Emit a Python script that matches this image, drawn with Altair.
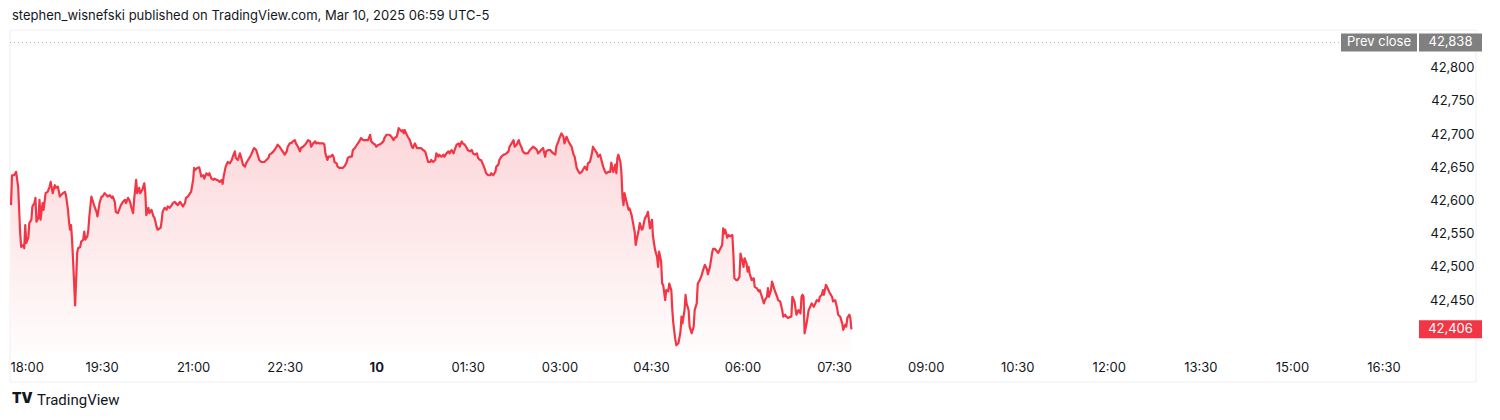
import json
import altair as alt
import pandas as pd

# ---- data (minutes after 18:00, price) ----
minutes = [
    1, 2, 4, 6, 8, 9, 10, 11, 13, 14,
    15, 16, 18, 19, 21, 22, 24, 25, 26, 28,
    29, 30, 32, 33, 35, 37, 39, 40, 42, 44,
    45, 47, 49, 50, 52, 54, 55, 57, 58, 59,
    60, 61, 62, 63, 64, 65, 66, 67, 69, 70,
    72, 73, 74, 76, 77, 78, 80, 81, 83, 85,
    86, 88, 90, 91, 93, 95, 96, 98, 100, 101,
    103, 104, 106, 108, 109, 111, 113, 114, 116, 118,
    119, 121, 122, 124, 125, 127, 128, 130, 132, 133,
    134, 136, 137, 139, 141, 142, 144, 145, 148, 149,
    150, 152, 154, 155, 157, 159, 160, 162, 163, 165,
    167, 168, 170, 172, 173, 175, 177, 178, 180, 181,
    182, 184, 186,
    188, 190, 191, 193, 195, 196, 198, 200, 201, 203,
    204, 206, 208, 209, 210, 212, 214, 216, 218, 219,
    221, 222, 224, 226, 227, 229, 231, 232, 234, 236,
    237, 239, 240, 242, 244, 245, 247, 249, 250, 252,
    254, 255, 257, 259, 260, 262, 263, 265, 267, 268,
    270, 272, 273, 275, 277, 278, 280, 281, 283, 285,
    286, 288, 290, 291, 293, 295, 296, 298, 300, 301,
    303, 304, 308, 309, 310, 312, 313, 315, 317, 318,
    319, 321, 322, 324, 326, 327, 329, 331, 332, 334,
    336, 337, 339, 341, 342, 344, 345, 347, 349, 350,
    352, 354, 355, 357, 359, 360, 362, 363, 365, 367,
    368, 370, 372, 373, 375, 377, 378, 380, 381, 382,
    385, 386, 387, 388, 390, 391, 393, 395, 396, 398,
    400, 401, 403, 404, 406, 408, 409, 411, 413, 414,
    416, 418, 419, 421, 422, 424, 426, 427, 429, 431,
    432, 434, 436, 437, 439, 441, 442, 444, 445, 447,
    449, 450, 452, 454, 455, 457, 459, 460, 462, 463,
    465, 467, 468, 470, 472, 473, 475, 477, 478, 480,
    481, 483, 485, 486, 488, 490, 491, 493, 495, 496,
    498, 500, 501, 503, 504, 506, 508, 509, 511, 513,
    514, 516, 518, 519, 521, 522, 524, 526, 527, 529,
    531, 532, 534, 536, 537, 539, 540, 542, 544, 545,
    547, 549, 550, 552, 554, 555, 557, 559, 560, 562,
    563, 565, 567, 568, 570, 572, 573, 575, 577, 578,
    580, 581, 583, 585, 586, 588, 590, 591, 593, 595,
    596, 597, 598, 600, 601, 602, 603, 604, 606, 608,
    609, 611, 613, 614, 615, 616, 618, 619, 621, 622,
    624, 626, 627, 628, 629, 631, 632, 634, 636, 637,
    638, 640, 641, 642, 644, 645, 647, 648, 650, 651,
    652, 654, 655, 657, 659, 660, 661, 663, 664, 665,
    667, 668, 670, 672, 673, 675, 676, 678, 680, 681,
    683, 685, 686, 688, 690, 691, 693, 695, 696, 698,
    700, 701, 702, 703, 705, 706, 708, 710, 711, 712,
    714, 715, 717, 718, 720, 721, 722, 724, 725, 726,
    727, 729, 731, 732, 734, 736, 737, 739, 741, 742,
    744, 745, 746, 748, 749, 750, 752, 754, 755, 757,
    759, 760, 762, 763, 765, 767, 768, 769, 771, 772,
    773, 775, 777, 778, 779, 780, 781, 783, 785, 786,
    788, 790, 791, 793, 795, 796, 798, 799, 800, 802,
    803, 805, 806, 808, 809, 811, 813, 814, 816, 818,
    819, 821, 822, 823, 825, 826, 827,
]

prices = [
    42593, 42638, 42638, 42643, 42621, 42586, 42551, 42530, 42533, 42528,
    42563, 42536, 42544, 42566, 42571, 42591, 42596, 42604, 42568, 42574,
    42601, 42571, 42596, 42586, 42611, 42613, 42621, 42628, 42611, 42623,
    42619, 42621, 42606, 42608, 42611, 42613, 42608, 42586, 42568, 42556,
    42563, 42541, 42510, 42476, 42442, 42480, 42521, 42528, 42530, 42538,
    42541, 42553, 42541, 42546, 42556, 42576, 42606, 42601, 42591, 42583,
    42576, 42596, 42606, 42606, 42611, 42608, 42606, 42608, 42604, 42606,
    42598, 42583, 42581, 42589, 42593, 42598, 42601, 42596, 42604, 42598,
    42591, 42581, 42601, 42631, 42611, 42619, 42611, 42616, 42626, 42611,
    42578, 42589, 42581, 42586, 42576, 42574, 42561, 42556, 42559, 42568,
    42583, 42589, 42586, 42591, 42589, 42593, 42596, 42598, 42596, 42593,
    42598, 42596, 42591, 42596, 42604, 42606, 42611, 42613, 42631, 42649,
    42646, 42649, 42650,
    42636, 42638, 42633, 42641, 42638, 42641, 42633, 42631, 42633, 42631,
    42631, 42628, 42631, 42625, 42636, 42651, 42658, 42656, 42661, 42666,
    42674, 42664, 42661, 42671, 42666, 42654, 42651, 42656, 42661, 42666,
    42669, 42676, 42679, 42676, 42666, 42661, 42658, 42658, 42658, 42661,
    42664, 42669, 42671, 42674, 42676, 42681, 42684, 42681, 42676, 42674,
    42669, 42674, 42681, 42686, 42687, 42689, 42691, 42686, 42681, 42674,
    42679, 42681, 42684, 42686, 42691, 42689, 42681, 42686, 42689, 42686,
    42687, 42686, 42686, 42684, 42671, 42661, 42666, 42666, 42669, 42666,
    42658, 42656, 42651, 42649, 42649, 42649, 42652, 42658, 42664, 42666,
    42666, 42676, 42679, 42684, 42686, 42691, 42694, 42691, 42691, 42691,
    42691, 42699, 42689, 42686, 42684, 42681, 42684, 42684, 42686, 42689,
    42694, 42699, 42699, 42699, 42696, 42691, 42694, 42696, 42701, 42709,
    42704, 42706, 42701, 42706, 42699, 42696, 42691, 42681, 42679, 42686,
    42679, 42679, 42679, 42679, 42676, 42674, 42669, 42658, 42658, 42661,
    42658, 42661, 42671, 42666, 42669, 42666, 42669, 42666, 42671, 42674,
    42671, 42676, 42671, 42676, 42684, 42686, 42681, 42689, 42686, 42684,
    42679, 42676, 42674, 42676, 42671, 42669, 42671, 42664, 42661, 42661,
    42654, 42646, 42641, 42638, 42638, 42641, 42638, 42643, 42651, 42654,
    42661, 42666, 42669, 42669, 42671, 42674, 42681, 42686, 42691, 42681,
    42684, 42691, 42686, 42679, 42674, 42671, 42671, 42671, 42676, 42679,
    42681, 42679, 42676, 42671, 42674, 42676, 42679, 42666, 42674, 42676,
    42676, 42674, 42671, 42669, 42681, 42689, 42694, 42701, 42696, 42686,
    42696, 42689, 42686, 42681, 42669, 42666, 42649, 42643, 42641, 42643,
    42646, 42651, 42646, 42656, 42658, 42671, 42681, 42676, 42671, 42666,
    42669, 42663, 42651, 42643, 42641, 42643, 42643, 42657, 42643, 42654,
    42641, 42664, 42669, 42658, 42641, 42606, 42593, 42611, 42598, 42586,
    42588, 42578, 42561, 42553, 42533, 42541, 42556, 42566, 42556, 42558,
    42573, 42578, 42583, 42571, 42558, 42571, 42546, 42526, 42515, 42500,
    42523, 42508, 42475, 42473, 42450, 42465, 42463, 42475, 42465, 42435,
    42415, 42390, 42382, 42385, 42402, 42425, 42415, 42435, 42458, 42445,
    42435, 42410, 42400, 42410, 42435, 42445, 42475, 42480, 42488, 42494,
    42503, 42497, 42489, 42500, 42520, 42527, 42527, 42523, 42521, 42527,
    42533, 42558, 42550, 42556, 42544, 42548, 42546, 42548, 42520, 42483,
    42480, 42480, 42485, 42520, 42508, 42500, 42513, 42505, 42493, 42500,
    42490, 42480, 42483, 42470, 42468, 42463, 42465, 42455, 42445, 42450,
    42455, 42468, 42455, 42465, 42478, 42473, 42463, 42455, 42450, 42448,
    42435, 42425, 42428, 42425, 42423, 42425, 42425, 42455, 42448, 42438,
    42428, 42435, 42430, 42455, 42458, 42455, 42400, 42415, 42435, 42438,
    42445, 42440, 42443, 42450, 42448, 42455, 42458, 42465, 42458, 42473,
    42470, 42463, 42460, 42455, 42448, 42450, 42438, 42428, 42425, 42415,
    42405, 42413, 42410, 42423, 42428, 42423, 42406,
]
assert len(minutes) == len(prices)

tick_minutes = [0, 90, 180, 270, 360, 450, 540, 630, 720, 810, 900, 990, 1080, 1170, 1260, 1350]
tick_labels = ["18:00", "19:30", "21:00", "22:30", "10", "01:30", "03:00", "04:30",
               "06:00", "07:30", "09:00", "10:30", "12:00", "13:30", "15:00", "16:30"]
bold_tick = 360
price_ticks = [42450, 42500, 42550, 42600, 42650, 42700, 42750, 42800]
prev_close = 42838
last_price = 42406
header_text = "stephen_wisnefski published on TradingView.com, Mar 10, 2025 06:59 UTC-5"
brand_text = "TradingView"
x_domain = [0, 1380]
y_domain = [42371.8, 42856.8]

# ---- styling ----
W, H = 1404, 322
FONT = "Inter"
TXT = "#131722"
RED = "#f23645"
GRAY = "#808080"

df = pd.DataFrame({"m": minutes, "price": prices})

xscale = alt.Scale(domain=x_domain, nice=False, zero=False)
yscale = alt.Scale(domain=y_domain, nice=False, zero=False)

label_expr = "{}[indexof({}, datum.value)]".format(json.dumps(tick_labels), json.dumps(tick_minutes))

x_main = alt.X(
    "m:Q", scale=xscale, title=None,
    axis=alt.Axis(
        values=tick_minutes, labelExpr=label_expr, grid=False, domain=False, ticks=False,
        tickSize=0, labelPadding=15, labelBaseline="middle", labelFlush=True,
        labelFont=FONT, labelFontSize=13, labelColor=TXT,
        labelFontWeight={"condition": {"test": "datum.value === %d" % bold_tick, "value": "bold"},
                         "value": "normal"},
    ),
)
y_main = alt.Y(
    "price:Q", scale=yscale, title=None,
    axis=alt.Axis(
        orient="right", values=price_ticks, format=",d", grid=False, domain=False,
        ticks=False, tickSize=0, labelPadding=60, labelAlign="right",
        labelFont=FONT, labelFontSize=13, labelColor=TXT,
    ),
)

gradient = alt.Gradient(
    gradient="linear",
    stops=[alt.GradientStop(color="rgba(242,54,69,0.20)", offset=0),
           alt.GradientStop(color="rgba(242,54,69,0.01)", offset=1)],
    x1=1, x2=1, y1=0, y2=1,
)

base = alt.Chart(df)
area = base.mark_area(color=gradient).encode(
    x=x_main, y=y_main, y2=alt.datum(y_domain[0])
)
line = base.mark_line(color=RED, strokeWidth=2.2, strokeJoin="round").encode(
    x=alt.X("m:Q", scale=xscale, title=None),
    y=alt.Y("price:Q", scale=yscale, title=None),
)

one = pd.DataFrame({"a": [0]})

frame = alt.Chart(one).mark_rect(fillOpacity=0, stroke="#efeff2", strokeWidth=1).encode(
    x=alt.value(0), x2=alt.value(1466), y=alt.value(0), y2=alt.value(352)
)

pc_df = pd.DataFrame({"price": [prev_close], "lab": ["Prev close"], "val": [f"{prev_close:,}"]})
pc_y = alt.Y("price:Q", scale=yscale, title=None)
pc_rule = alt.Chart(pc_df).mark_rule(color="#b2b5be", strokeDash=[1, 3], strokeWidth=1).encode(
    y=pc_y, x=alt.value(0), x2=alt.value(1331)
)
pc_box1 = alt.Chart(pc_df).mark_rule(color=GRAY, strokeWidth=18).encode(
    y=pc_y, x=alt.value(1331), x2=alt.value(1407)
)
pc_box2 = alt.Chart(pc_df).mark_rule(color=GRAY, strokeWidth=18).encode(
    y=pc_y, x=alt.value(1409), x2=alt.value(1472)
)
pc_txt1 = alt.Chart(pc_df).mark_text(color="white", font=FONT, fontSize=13, align="center", baseline="middle").encode(
    y=pc_y, x=alt.value(1369), text="lab:N"
)
pc_txt2 = alt.Chart(pc_df).mark_text(color="white", font=FONT, fontSize=13, align="center", baseline="middle").encode(
    y=pc_y, x=alt.value(1440.5), text="val:N"
)

lp_df = pd.DataFrame({"price": [last_price], "val": [f"{last_price:,}"]})
lp_box = alt.Chart(lp_df).mark_rule(color=RED, strokeWidth=18).encode(
    y=pc_y, x=alt.value(1409), x2=alt.value(1472)
)
lp_txt = alt.Chart(lp_df).mark_text(color="white", font=FONT, fontSize=13, align="center", baseline="middle").encode(
    y=pc_y, x=alt.value(1440.5), text="val:N"
)

hdr_df = pd.DataFrame({"t": [header_text]})
header = alt.Chart(hdr_df).mark_text(align="left", baseline="middle", font=FONT, fontSize=13, color=TXT).encode(
    x=alt.value(2), y=alt.value(-14), text="t:N"
)

brand_df = pd.DataFrame({"t": [brand_text], "logo": ["TV"]})
brand = alt.Chart(brand_df).mark_text(align="left", baseline="middle", font="Roboto", fontSize=15, color=TXT).encode(
    x=alt.value(27), y=alt.value(48 + H), text="t:N"
)
logo = alt.Chart(brand_df).mark_text(align="left", baseline="middle", font=FONT, fontSize=14, fontWeight=900, color=TXT).encode(
    x=alt.value(2), y=alt.value(47 + H), text="logo:N"
)

chart = alt.layer(
    frame, area, line, pc_rule, pc_box1, pc_box2, pc_txt1, pc_txt2, lp_box, lp_txt, header, brand, logo
).properties(
    width=W, height=H,
    background="white",
    autosize=alt.AutoSizeParams(type="none"),
    padding={"left": 2, "top": 22, "right": 76, "bottom": 58},
).configure_view(strokeWidth=0, stroke="transparent")

chart.save("out.html", embed_options={"renderer": "svg", "actions": False})
